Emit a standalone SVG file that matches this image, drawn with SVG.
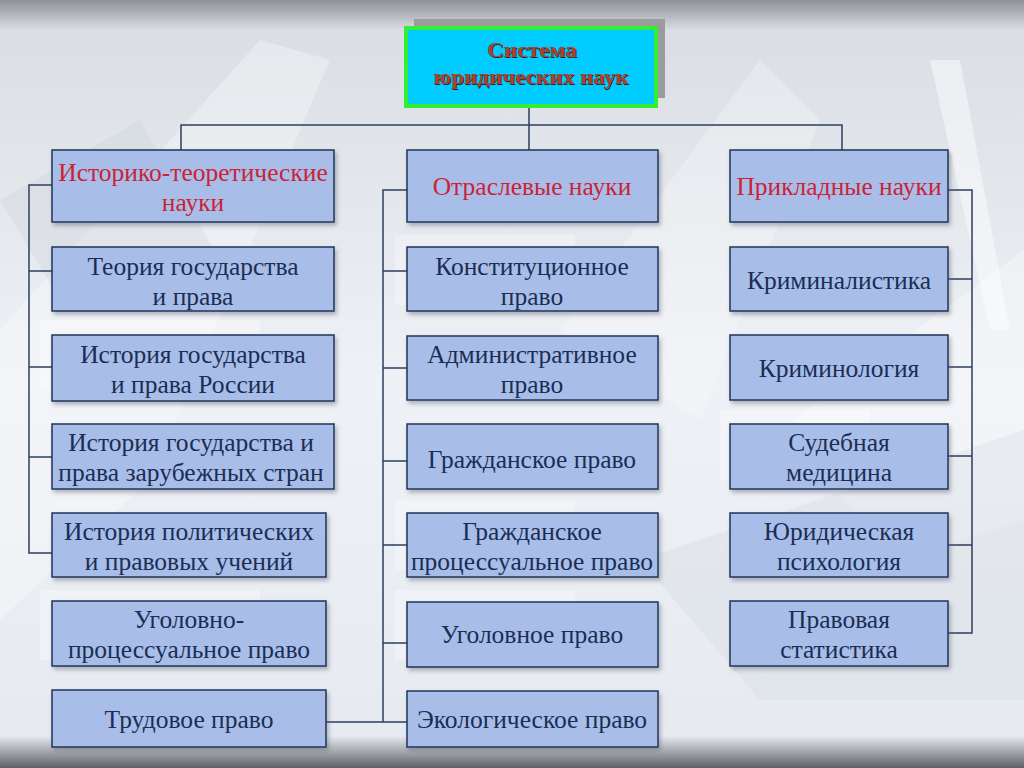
<svg xmlns="http://www.w3.org/2000/svg" width="1024" height="768" viewBox="0 0 1024 768">
<defs>
<linearGradient id="bg" x1="0" y1="0" x2="0" y2="1">
<stop offset="0" stop-color="#D9DDE3"/>
<stop offset="0.5" stop-color="#EEF1F5"/>
<stop offset="1" stop-color="#E6EAF0"/>
</linearGradient>
<linearGradient id="topbar" x1="0" y1="0" x2="0" y2="1">
<stop offset="0" stop-color="#8E9196"/>
<stop offset="1" stop-color="#8E9196" stop-opacity="0"/>
</linearGradient>
<linearGradient id="botbar" x1="0" y1="0" x2="0" y2="1">
<stop offset="0" stop-color="#5E6166" stop-opacity="0"/>
<stop offset="1" stop-color="#5E6166"/>
</linearGradient>
<filter id="sh" x="-5%" y="-5%" width="115%" height="125%">
<feDropShadow dx="2" dy="3" stdDeviation="2" flood-color="#5A6478" flood-opacity="0.45"/>
</filter>
</defs>
<style>
.box{fill:#A8BEE8;stroke:#1F3458;stroke-width:1.5;filter:url(#sh)}
.t{font-family:"Liberation Serif","Times New Roman",serif;font-size:25.5px;fill:#1A2E55;text-anchor:middle}
.h{fill:#CC2236}
.ln{stroke:#2E3E60;stroke-width:1.5;fill:none}
.ghost{fill:#FFFFFF;opacity:0.3}
.title{font-family:"Liberation Serif","Times New Roman",serif;font-size:21px;font-weight:bold;fill:#B0402C;text-anchor:middle}
.tsh{fill:#2A2A2A}
</style>
<g id="background">
<rect width="1024" height="768" fill="url(#bg)"/>
<polygon points="0,330 260,40 330,60 150,480 0,620" fill="#FFFFFF" opacity="0.3"/>
<polygon points="560,330 760,60 820,120 700,420" fill="#FFFFFF" opacity="0.25"/>
<polygon points="780,430 1024,250 1024,520 900,560" fill="#FFFFFF" opacity="0.3"/>
<polygon points="0,200 140,120 220,260 60,300" fill="#C9CFD8" opacity="0.3"/>
<polygon points="640,560 1024,430 1024,700 760,700" fill="#D2D7DF" opacity="0.3"/>
<polygon points="930,60 960,60 1010,330 990,330" fill="#FFFFFF" opacity="0.45"/>
<rect width="1024" height="30" fill="url(#topbar)"/>
<rect y="736" width="1024" height="32" fill="url(#botbar)"/>
<rect class="ghost" x="40" y="320" width="220" height="70"/>
<rect class="ghost" x="40" y="590" width="220" height="70"/>
<rect class="ghost" x="395" y="235" width="180" height="70"/>
<rect class="ghost" x="395" y="500" width="180" height="70"/>
<rect class="ghost" x="395" y="590" width="180" height="70"/>
<rect class="ghost" x="720" y="410" width="150" height="70"/>
</g>
<g id="connectors">
<path class="ln" d="M529,106 V150 M181,150 V125 H842 V150"/>
<path class="ln" d="M52,185 H29 V553 H52 M29,271 H52 M29,367 H52 M29,457 H52"/>
<path class="ln" d="M407,190 H383 V722 H407 M383,271 H407 M383,368 H407 M383,461 H407 M383,545 H407 M383,643 H407 M326,722 H383"/>
<path class="ln" d="M948,190 H972 V633 H948 M948,279 H972 M948,367 H972 M948,456 H972 M948,545 H972"/>
</g>
<g id="root">
<rect x="414" y="19" width="251" height="79" fill="#9B9B9B"/>
<rect x="406" y="28" width="250" height="78" fill="#00CCFF" stroke="#33EE33" stroke-width="4"/>
<text class="title tsh" x="533" y="58" textLength="90" lengthAdjust="spacingAndGlyphs">Система</text>
<text class="title" x="532" y="57" textLength="90" lengthAdjust="spacingAndGlyphs">Система</text>
<text class="title tsh" x="532" y="85" textLength="195" lengthAdjust="spacingAndGlyphs">юридических наук</text>
<text class="title" x="531" y="84" textLength="195" lengthAdjust="spacingAndGlyphs">юридических наук</text>
</g>
<g id="hist-theory">
<rect class="box" x="52" y="150" width="282" height="72"/>
<text class="t h" x="193" y="181">Историко-теоретические</text>
<text class="t h" x="193" y="211">науки</text>
</g>
<g id="branch">
<rect class="box" x="407" y="150" width="251" height="72"/>
<text class="t h" x="532" y="195">Отраслевые науки</text>
</g>
<g id="applied">
<rect class="box" x="730" y="150" width="218" height="72"/>
<text class="t h" x="839" y="195">Прикладные науки</text>
</g>
<g id="theory-state-law">
<rect class="box" x="52" y="247" width="282" height="64"/>
<text class="t" x="193" y="275">Теория государства</text>
<text class="t" x="193" y="305">и права</text>
</g>
<g id="history-russia">
<rect class="box" x="52" y="335" width="282" height="66"/>
<text class="t" x="193" y="363">История государства</text>
<text class="t" x="193" y="393">и права России</text>
</g>
<g id="history-foreign">
<rect class="box" x="52" y="424" width="282" height="65"/>
<text class="t" x="191" y="451">История государства и</text>
<text class="t" x="191" y="481">права зарубежных стран</text>
</g>
<g id="history-political">
<rect class="box" x="52" y="513" width="274" height="64"/>
<text class="t" x="189" y="540">История политических</text>
<text class="t" x="189" y="570">и правовых учений</text>
</g>
<g id="criminal-procedure">
<rect class="box" x="52" y="601" width="274" height="65"/>
<text class="t" x="189" y="628">Уголовно-</text>
<text class="t" x="189" y="658">процессуальное право</text>
</g>
<g id="labour">
<rect class="box" x="52" y="690" width="274" height="57"/>
<text class="t" x="189" y="728">Трудовое право</text>
</g>
<g id="constitutional">
<rect class="box" x="407" y="247" width="251" height="64"/>
<text class="t" x="532" y="275">Конституционное</text>
<text class="t" x="532" y="305">право</text>
</g>
<g id="administrative">
<rect class="box" x="407" y="336" width="251" height="64"/>
<text class="t" x="532" y="363">Административное</text>
<text class="t" x="532" y="393">право</text>
</g>
<g id="civil">
<rect class="box" x="407" y="424" width="251" height="65"/>
<text class="t" x="532" y="468">Гражданское право</text>
</g>
<g id="civil-procedure">
<rect class="box" x="407" y="513" width="251" height="64"/>
<text class="t" x="532" y="540">Гражданское</text>
<text class="t" x="532" y="570">процессуальное право</text>
</g>
<g id="criminal">
<rect class="box" x="407" y="602" width="251" height="65"/>
<text class="t" x="532" y="643">Уголовное право</text>
</g>
<g id="ecological">
<rect class="box" x="407" y="691" width="251" height="56"/>
<text class="t" x="532" y="728">Экологическое право</text>
</g>
<g id="criminalistics">
<rect class="box" x="730" y="247" width="218" height="64"/>
<text class="t" x="839" y="289">Криминалистика</text>
</g>
<g id="criminology">
<rect class="box" x="730" y="335" width="218" height="65"/>
<text class="t" x="839" y="377">Криминология</text>
</g>
<g id="forensic-medicine">
<rect class="box" x="730" y="424" width="218" height="65"/>
<text class="t" x="839" y="451">Судебная</text>
<text class="t" x="839" y="481">медицина</text>
</g>
<g id="legal-psychology">
<rect class="box" x="730" y="513" width="218" height="64"/>
<text class="t" x="839" y="540">Юридическая</text>
<text class="t" x="839" y="570">психология</text>
</g>
<g id="legal-statistics">
<rect class="box" x="730" y="601" width="218" height="65"/>
<text class="t" x="839" y="628">Правовая</text>
<text class="t" x="839" y="658">статистика</text>
</g>
</svg>
